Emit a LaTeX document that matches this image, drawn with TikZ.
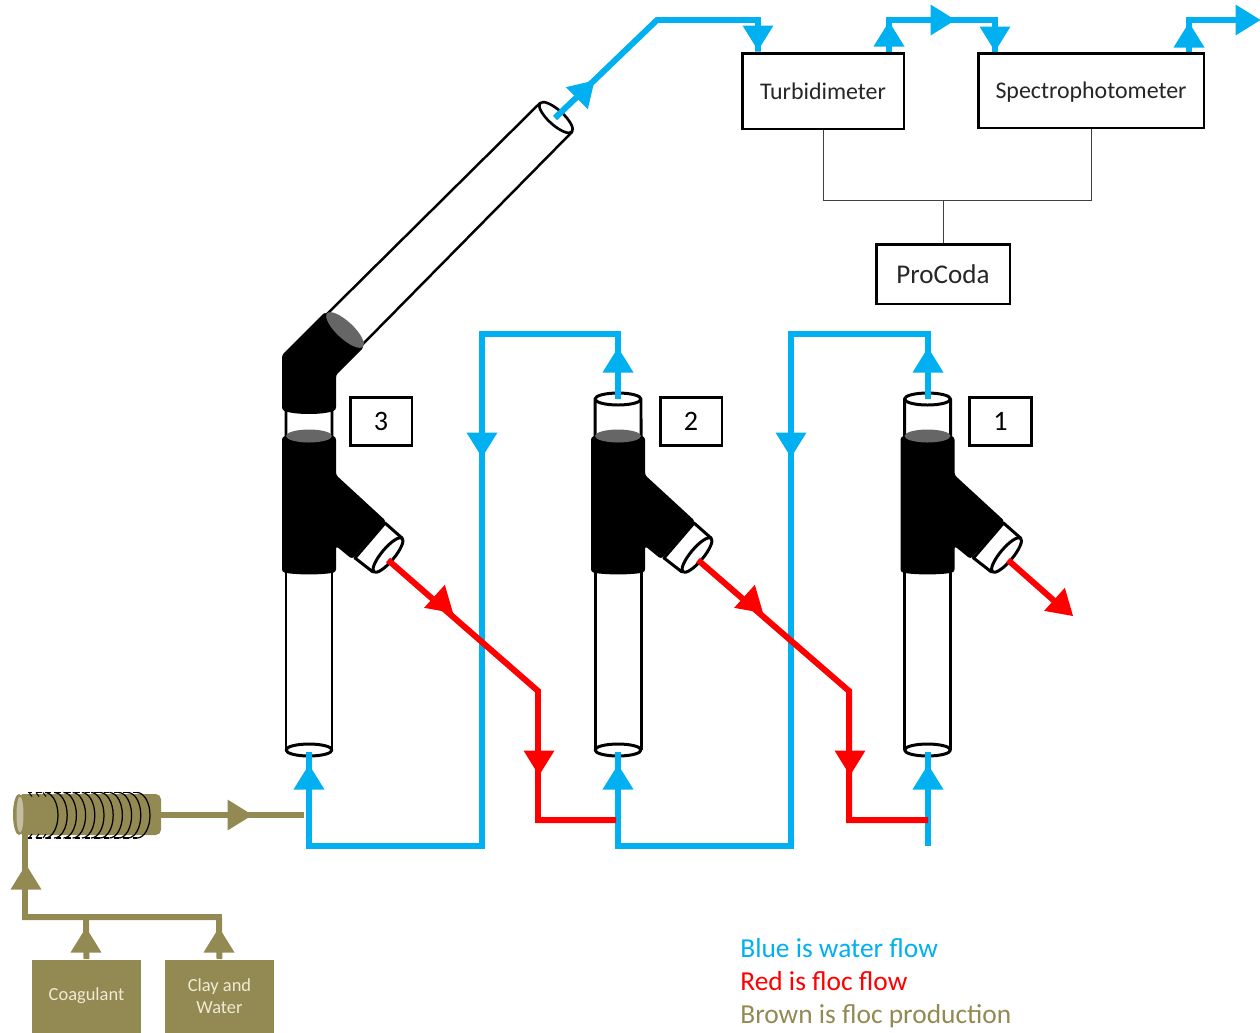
\documentclass[tikz,border=0pt]{standalone}
\usepackage{fontspec}
\setmainfont{Carlito}
\definecolor{wblue}{HTML}{00B0F0}
\definecolor{frred}{HTML}{FF0000}
\definecolor{brn}{HTML}{938953}
\definecolor{brntxt}{HTML}{EFEBD5}
\definecolor{midgray}{HTML}{666666}
\newcommand{\ahead}[4]{\fill[#1,shift={(#2,#3)},rotate=#4] (0.27cm,0) -- (-0.23cm,0.31cm) -- (-0.23cm,-0.31cm) -- cycle;}
\newcommand{\tubecol}[2]{%
 \begin{scope}[xshift=#1*0.02cm]
  \draw[tube] (286,570) -- (286,750) (332,570) -- (332,750);
  \draw[tube,fill=white] (309,750) ellipse [x radius=0.46cm,y radius=0.12cm];
  \draw[tube,fill=white] (286,436) -- (286,399) arc[start angle=180,end angle=0,x radius=0.46cm,y radius=0.12cm] -- (332,436) -- cycle;
  \draw[tube] (286,399) arc[start angle=180,end angle=360,x radius=0.46cm,y radius=0.12cm];
  \draw[tube,fill=white] (385,523) -- (402,538) -- (373,572) -- (355,558) -- cycle;
  \draw[tube,fill=white] (388,555) ellipse [x radius=0.44cm,y radius=0.13cm,rotate=50];
  \fill[black,rounded corners=1.5pt] (282,572) .. controls (295,575) and (323,575) .. (336,572) -- (336,546) -- (352,559) -- (386,521) -- (336,475) -- (336,437) .. controls (323,433) and (295,433) .. (282,437) -- cycle;
  \fill[midgray] (309,436) ellipse [x radius=0.46cm,y radius=0.13cm];
 \end{scope}}
\tikzset{
 x=0.02cm,y=-0.02cm,
 tube/.style={draw=black,line width=1.7pt,line join=round},
 wflow/.style={draw=wblue,line width=3.4pt,line join=miter},
 rflow/.style={draw=frred,line width=3.4pt,line join=miter},
 bflow/.style={draw=brn,line width=3.4pt,line join=miter},
 wirelink/.style={draw=black!75,line width=0.5pt},
 instbox/.style={draw=black,line width=1.7pt,fill=white,inner sep=0pt,text depth=0pt,font=\fontsize{13.6}{15}\selectfont,text=black!85},
 numbox/.style={draw=black,line width=1.7pt,fill=white,inner sep=0pt,minimum width=1.24cm,minimum height=0.96cm,font=\fontsize{16}{18}\selectfont},
 feedbox/.style={fill=brn,inner sep=0pt,text=brntxt,align=center,minimum width=2.18cm,minimum height=1.46cm,font=\fontsize{10.5}{12.5}\selectfont},
 legend/.style={anchor=west,inner sep=0pt,text depth=0pt,font=\fontsize{15.6}{17}\selectfont},
}
\begin{document}
\begin{tikzpicture}
\useasboundingbox (0,0) rectangle (1260,1032);
% columns
\tubecol{0}{3}
\tubecol{309}{2}
\tubecol{618.5}{1}
% long tube and elbow
\draw[line width=1.4pt,fill=white,line join=round] (326,315) -- (540,103) -- (572,132) -- (360,347) -- cycle;
\draw[tube,line width=1.5pt,fill=white] (556,117.5) ellipse [x radius=0.43cm,y radius=0.15cm,rotate=-42];
\fill[black,rounded corners=1.5pt] (282,355) -- (325,312) -- (364,347) -- (336,375) -- (336,410) .. controls (323,415) and (295,415) .. (282,410) -- cycle;
\fill[midgray] (345,330) ellipse [x radius=0.49cm,y radius=0.17cm,rotate=-43];
% boxes
\node[instbox,minimum width=3.24cm,minimum height=1.52cm] (turb) at (823,91) {Turbidimeter};
\node[instbox,minimum width=4.52cm,minimum height=1.5cm] (spec) at (1091,90.5) {Spectrophotometer};
\node[instbox,minimum width=2.68cm,minimum height=1.2cm,font=\fontsize{15.4}{17}\selectfont] (proc) at (943,274) {ProCoda};
\node[numbox] (n3) at (381,421.5) {3};
\node[numbox] (n2) at (691,421.5) {2};
\node[numbox] (n1) at (1000.5,421.5) {1};
\node[feedbox] (coag) at (86.5,996) {Coagulant};
\node[feedbox] (clay) at (219.5,996) {Clay and\\Water};
% wires
\coordinate (wj) at (turb.south |- 0,200);
\coordinate (wk) at (spec.south |- 0,200);
\coordinate (wm) at (proc.north |- 0,200);
\draw[wirelink] (turb.south) -- (wj) -- (wk) -- (spec.south);
\draw[wirelink] (wm) -- (proc.north);
% blue flows
\coordinate (tubeout) at (555,118);
\draw[wflow] (tubeout) -- (657,20) -- (758,20) -- (turb.north -| 758,0);
\draw[wflow] (turb.north -| 889,0) -- (889,20) -- (995,20) -- (spec.north -| 995,0);
\draw[wflow] (spec.north -| 1189,0) -- (1189,20) -- (1250,20);
\draw[wflow] (618,399) -- (618,334) -- (482,334) -- (482,846) -- (309,846) -- (309,752);
\draw[wflow] (928,399) -- (928,334) -- (791,334) -- (791,846) -- (618,846) -- (618,752);
\draw[wflow] (928,846) -- (928,752);
\ahead{wblue}{585}{90}{45}
\ahead{wblue}{758}{37}{-90}
\ahead{wblue}{889}{35}{90}
\ahead{wblue}{942}{20}{0}
\ahead{wblue}{995}{38}{-90}
\ahead{wblue}{1189}{36}{90}
\ahead{wblue}{1247}{20}{0}
\ahead{wblue}{618}{361}{90}
\ahead{wblue}{928}{361}{90}
\ahead{wblue}{482}{444}{-90}
\ahead{wblue}{791}{444}{-90}
\ahead{wblue}{309}{778}{90}
\ahead{wblue}{618}{778}{90}
\ahead{wblue}{928}{778}{90}
% red flows
\draw[rflow] (388,560) -- (538,691) -- (538,820) -- (616,820);
\draw[rflow] (698,560) -- (849,691) -- (849,820) -- (928,820);
\draw[rflow] (1008,560) -- (1060,606);
\ahead{frred}{443}{604}{-42}
\ahead{frred}{753}{604}{-42}
\ahead{frred}{1063}{607}{-42}
\ahead{frred}{539}{762}{-90}
\ahead{frred}{850}{762}{-90}
% brown flows
\draw[bflow] (25,830) -- (25,917) -- (219,917) -- (clay.north);
\draw[bflow] (86,917) -- (coag.north);
\draw[bflow] (150,815) -- (304,815);
\ahead{brn}{26}{878}{90}
\ahead{brn}{86}{941}{90}
\ahead{brn}{219}{941}{90}
\ahead{brn}{239}{815}{0}
% coil
\fill[brn,rounded corners=3pt] (18,794) rectangle (161,835);
\fill[brn] (19,814.5) ellipse [x radius=0.12cm,y radius=0.41cm];
\fill[brn!55!white] (20,814.5) ellipse [x radius=0.07cm,y radius=0.36cm];
\draw[black,line width=0.8pt,rounded corners=3pt] (28,792.5) -- (137,792.5) (28,838) -- (137,838);
\draw[white,line width=0.7pt,dash pattern=on 2.5pt off 3pt] (32,792.5) -- (135,792.5) (32,838) -- (135,838);
\foreach \cx in {45,54.2,...,138}{
 \draw[black,line width=0.7pt] (\cx,792.5) arc[start angle=90,end angle=-90,x radius=0.26cm,y radius=0.455cm];
}
\foreach \cx in {29,36,43}{
 \draw[black,line width=0.6pt] (\cx,792.5) -- ++(3,4) (\cx,838) -- ++(3,-4);
}
% legend
\node[legend,text=wblue] (l1) at (740,948) {Blue is water flow};
\node[legend,text=frred] (l2) at (740,981) {Red is floc flow};
\node[legend,text=brn] (l3) at (740,1014) {Brown is floc production};
\end{tikzpicture}
\end{document}
